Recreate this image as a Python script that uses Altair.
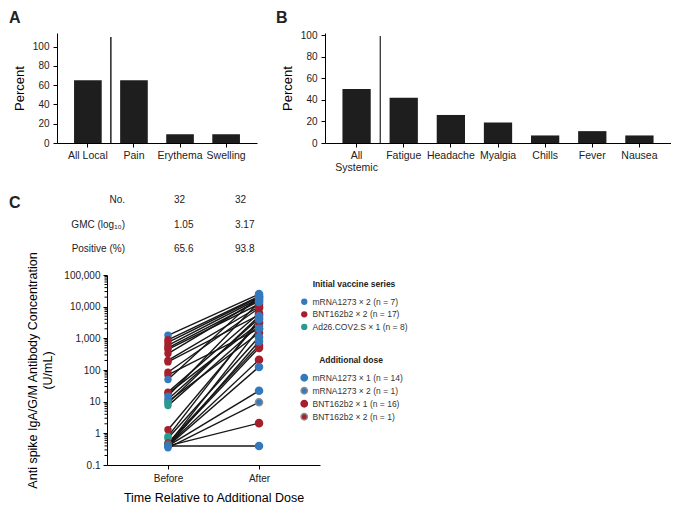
import altair as alt
import pandas as pd

FONT = "Liberation Sans"
BAR = "#1e1e1e"
BLUE = "#3579BD"
RED = "#A51F2D"
TEAL = "#2A9A8E"
GRAY = "#8C8C8C"

# ---- Panel A: local reactions (%)
local_cats = ["All Local", "Pain", "Erythema", "Swelling"]
local_pct = [65, 65, 9, 9]

# ---- Panel B: systemic reactions (%)
sys_cats = ["All Systemic", "Fatigue", "Headache", "Myalgia", "Chills", "Fever", "Nausea"]
sys_pct = [50, 42, 26, 19, 7, 11, 7]

# ---- Panel C summary table
table_rows = ["No.", "GMC (log₁₀)", "Positive (%)"]
table_before = ["32", "1.05", "65.6"]
table_after = ["32", "3.17", "93.8"]

# ---- Panel C: antibody concentration (U/mL) per participant
before_vals = [1250, 900, 750, 600, 500, 450, 330, 200, 180, 85, 70, 50, 20, 18, 15, 12,
               10, 9, 7.5, 1.3, 0.8, 0.7, 0.5, 0.45, 0.45, 0.42, 0.4, 0.4, 0.4, 0.4, 0.4, 0.35]
after_vals = [25000, 21000, 20000, 18000, 15000, 12000, 17000, 10000, 5500, 9000, 2000, 22000,
              6200, 3000, 14000, 4300, 1500, 5000, 2500, 3300, 4000, 1100, 600, 500, 2000, 210,
              800, 125, 2.1, 22, 0.4, 9.6]
initial_names = ["mRNA1273 × 2 (n = 7)", "BNT162b2 × 2 (n = 17)", "Ad26.COV2.S × 1 (n = 8)"]
initial_colors = [BLUE, RED, TEAL]
initial_code = [0, 1, 1, 1, 1, 1, 1, 1, 1, 1, 1, 0, 1, 1, 0, 0,
                0, 2, 2, 1, 2, 2, 1, 1, 2, 1, 2, 2, 1, 2, 0, 0]
dose_names = ["mRNA1273 × 1 (n = 14)", "mRNA1273 × 2 (n = 1)", "BNT162b2 × 1 (n = 16)", "BNT162b2 × 2 (n = 1)"]
dose_fill = [BLUE, BLUE, RED, RED]
dose_stroke = [BLUE, GRAY, RED, GRAY]
dose_code = [0, 2, 3, 2, 2, 2, 0, 2, 2, 2, 2, 0, 2, 2, 0, 0,
             2, 0, 0, 2, 0, 0, 2, 2, 0, 2, 0, 0, 2, 0, 0, 1]
y_ticks = [0.1, 1, 10, 100, 1000, 10000, 100000]
minor_ticks = [m * 10.0 ** k for k in range(-1, 5) for m in range(2, 10)]
pct_ticks = [0, 20, 40, 60, 80, 100]
panel_letters = ["A", "B"]

axis_common = dict(domainColor="black", tickColor="black", labelColor="#222", labelOverlap=False,
                   labelFont=FONT, titleFont=FONT, titleFontWeight="normal", grid=False)

# ---------------- Row 1: panels A and B in one view ----------------
# the row's origin is shared with panel C's plot origin; A sits 50px to its left
ROW_W, ROW_H = 564, 110
A_RANGE = [-50, 150]
B_RANGE = [218, 564]

dfa = pd.DataFrame({"cat": local_cats, "pct": local_pct})
xa_scale = alt.Scale(domain=local_cats, range=A_RANGE, paddingInner=0.4, paddingOuter=0.37)
ya_scale = alt.Scale(domain=[0, 114], nice=False)
bars_a = alt.Chart(dfa).mark_bar(color=BAR).encode(
    x=alt.X("cat:N", sort=local_cats, scale=xa_scale,
            axis=alt.Axis(title=None, orient="bottom", labelAngle=0, labelFontSize=10.5, tickSize=4,
                          labelPadding=3, **axis_common)),
    y=alt.Y("pct:Q", scale=ya_scale,
            axis=alt.Axis(values=pct_ticks, orient="left", offset=-A_RANGE[0], title="Percent",
                          titleFontSize=13, labelFontSize=10, tickSize=4, labelPadding=4,
                          titlePadding=6, **axis_common)))
sep_a = alt.Chart(pd.DataFrame({"cat": ["All Local"]})).mark_rule(
    color="black", strokeWidth=1.3, xOffset=23).encode(
    x=alt.X("cat:N", sort=local_cats, scale=xa_scale), y=alt.value(4), y2=alt.value(ROW_H))
layer_a = alt.layer(bars_a, sep_a)

dfb = pd.DataFrame({"cat": sys_cats, "pct": sys_pct})
xb_scale = alt.Scale(domain=sys_cats, range=B_RANGE, paddingInner=0.4, paddingOuter=0.37)
yb_scale = alt.Scale(domain=[0, 102], nice=False)
bars_b = alt.Chart(dfb).mark_bar(color=BAR).encode(
    x=alt.X("cat:N", sort=sys_cats, scale=xb_scale,
            axis=alt.Axis(title=None, orient="bottom", labelAngle=0, labelFontSize=10.5, tickSize=4,
                          labelPadding=3, labelLineHeight=12,
                          labelExpr="datum.value == 'All Systemic' ? ['All', 'Systemic'] : datum.label",
                          **axis_common)),
    y=alt.Y("pct:Q", scale=yb_scale,
            axis=alt.Axis(values=pct_ticks, orient="left", offset=-B_RANGE[0], title="Percent",
                          titleFontSize=13, labelFontSize=10, tickSize=4, labelPadding=4,
                          titlePadding=6, **axis_common)))
sep_b = alt.Chart(pd.DataFrame({"cat": ["All Systemic"]})).mark_rule(
    color="#333", strokeWidth=1.3, xOffset=23.7).encode(
    x=alt.X("cat:N", sort=sys_cats, scale=xb_scale), y=alt.value(3), y2=alt.value(ROW_H))
layer_b = alt.layer(bars_b, sep_b)

letters = alt.Chart(pd.DataFrame({"t": panel_letters, "px": [-98, 169]})).mark_text(
    align="left", baseline="middle", fontSize=16, fontWeight="bold", color="#222", font=FONT).encode(
    x=alt.X("px:Q", scale=alt.Scale(domain=[0, 100], range=[0, 100]), axis=None),
    y=alt.value(-15), text="t:N")

row1 = alt.layer(layer_a, layer_b, letters).resolve_scale(
    x="independent", y="independent").properties(width=ROW_W, height=ROW_H)

# ---------------- Panel C ----------------
rows = []
for i in range(len(before_vals)):
    rows.append({"id": i, "time": "Before", "value": before_vals[i],
                 "initial": initial_names[initial_code[i]], "dose": dose_names[dose_code[i]]})
    rows.append({"id": i, "time": "After", "value": after_vals[i],
                 "initial": initial_names[initial_code[i]], "dose": dose_names[dose_code[i]]})
dfc = pd.DataFrame(rows)

xscale_c = alt.Scale(type="point", domain=["Before", "After"], padding=0.67)
yscale_c = alt.Scale(type="log", domain=[0.1, 100000], nice=False)

xc = alt.X("time:N", sort=["Before", "After"], scale=xscale_c,
           axis=alt.Axis(title="Time Relative to Additional Dose", titleFontSize=12.5, titlePadding=8,
                         labelAngle=0, labelFontSize=10, tickSize=4, labelPadding=4, **axis_common))
yc = alt.Y("value:Q", scale=yscale_c,
           axis=alt.Axis(values=y_ticks, labelExpr="format(datum.value, ',')",
                         title=["Anti spike IgA/G/M Antibody Concentration", "(U/mL)"],
                         titleFontSize=12.5, titleLineHeight=15, titlePadding=9,
                         labelFontSize=10, tickSize=4, labelPadding=3, **axis_common))

minor = alt.Chart(pd.DataFrame({"v": minor_ticks})).mark_rule(color="black", strokeWidth=1).encode(
    y=alt.Y("v:Q", scale=yscale_c), x=alt.value(0), x2=alt.value(-2.5))

lines = alt.Chart(dfc).mark_line(color="#161616", strokeWidth=1.4).encode(
    x=xc, y=yc, detail="id:N")

pts_before = alt.Chart(dfc).transform_filter(alt.datum.time == "Before").mark_circle(
    size=55, opacity=1).encode(
    x=xc, y=yc,
    color=alt.Color("initial:N", scale=alt.Scale(domain=initial_names, range=initial_colors),
                    legend=alt.Legend(title="Initial vaccine series", orient="none",
                                      legendX=193, legendY=5, rowPadding=3.6)))

leg_dose = alt.Legend(title="Additional dose", orient="none", legendX=193, legendY=81, rowPadding=0)
pts_after = alt.Chart(dfc).transform_filter(alt.datum.time == "After").mark_point(
    filled=True, shape="circle", size=50, strokeWidth=1.5, opacity=1).encode(
    x=xc, y=yc,
    fill=alt.Fill("dose:N", scale=alt.Scale(domain=dose_names, range=dose_fill), legend=leg_dose),
    stroke=alt.Stroke("dose:N", scale=alt.Scale(domain=dose_names, range=dose_stroke), legend=leg_dose))

plot_layer = alt.layer(minor, lines, pts_before, pts_after)

# summary table above the plot
row_scale = alt.Scale(type="point", domain=table_rows, range=[-75, -26], padding=0)
tbl_labels = alt.Chart(pd.DataFrame({"row": table_rows})).mark_text(
    align="right", baseline="middle", fontSize=10, color="#222", font=FONT).encode(
    x=alt.value(18), y=alt.Y("row:N", scale=row_scale, axis=None), text="row:N")
df_tv = pd.DataFrame({"row": table_rows * 2, "col": ["Before"] * 3 + ["After"] * 3,
                      "val": table_before + table_after})
tbl_vals = alt.Chart(df_tv).mark_text(
    align="left", baseline="middle", fontSize=10, color="#222", font=FONT).encode(
    x=alt.X("col:N", scale=alt.Scale(type="point", domain=["Before", "After"], range=[67, 128], padding=0),
            axis=None),
    y=alt.Y("row:N", scale=row_scale, axis=None), text="val:N")
letter_c = alt.Chart(pd.DataFrame({"t": ["C"]})).mark_text(
    align="left", baseline="middle", fontSize=16, fontWeight="bold", color="#222", font=FONT).encode(
    x=alt.value(-98), y=alt.value(-72), text="t:N")
table_layer = alt.layer(tbl_labels, tbl_vals, letter_c)

panel_c = alt.layer(plot_layer, table_layer).resolve_scale(
    x="independent", y="independent").properties(width=213, height=190)

chart = alt.concat(row1, panel_c, columns=1, align="none", spacing=22,
                   padding={"left": 1, "top": 2, "right": 0, "bottom": 0}).resolve_scale(
    color="independent", fill="independent", stroke="independent").resolve_legend(
    color="independent", fill="independent", stroke="independent")
chart = chart.configure(font=FONT).configure_view(stroke="transparent", strokeWidth=0).configure_axis(
    labelOverlap=False).configure_legend(
    titleAnchor="middle", titleFontSize=8.5, titleFontWeight="bold", labelFontSize=8.5,
    symbolSize=40, symbolType="circle", rowPadding=3.6, titlePadding=9, labelColor="#333",
    titleColor="#222", labelFont=FONT, titleFont=FONT, symbolStrokeWidth=1.5)

chart.save("out.html", embed_options={"renderer": "svg", "actions": False})
